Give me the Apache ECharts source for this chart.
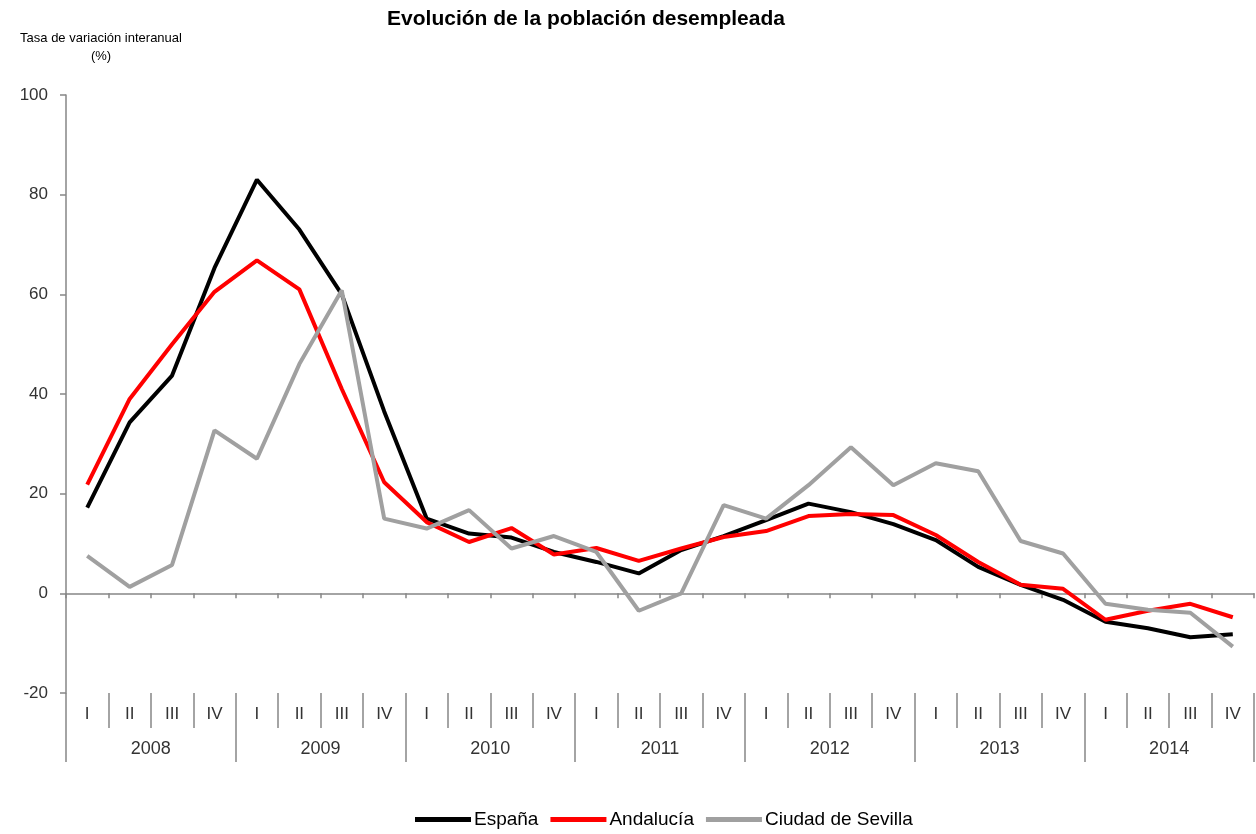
<!DOCTYPE html>
<html>
<head>
<meta charset="utf-8">
<script src="https://cdn.jsdelivr.net/npm/echarts@6/dist/echarts.min.js"></script>
<style>html,body{margin:0;padding:0;background:#fff}#c{width:1256px;height:834px}</style>
</head>
<body>
<div id="c"></div>
<script>
const years = ['2008','2009','2010','2011','2012','2013','2014'];
const quarterNames = ['I','II','III','IV'];
const quarters = [];
years.forEach(() => quarterNames.forEach(q => quarters.push(q)));
const categories = [];
years.forEach(y => quarterNames.forEach(q => categories.push(y + ' ' + q)));

const espana = [17.2, 34.3, 43.7, 65.3, 83.0, 73.0, 60.0, 36.5, 15.0, 12.0, 11.2, 8.3, 6.3, 4.0, 8.7, 11.5, 14.7, 18.0, 16.3, 13.9, 10.7, 5.3, 1.7, -1.3, -5.7, -7.0, -8.8, -8.2];
const andalucia = [21.8, 39.0, 50.0, 60.5, 66.8, 61.0, 41.0, 22.3, 14.3, 10.3, 13.1, 7.8, 9.1, 6.5, 9.0, 11.3, 12.5, 15.5, 15.9, 15.7, 11.7, 6.3, 1.7, 0.9, -5.3, -3.5, -2.1, -4.8];
const sevilla = [7.5, 1.3, 5.7, 32.7, 27.0, 46.0, 60.8, 15.0, 13.0, 16.7, 9.0, 11.5, 8.3, -3.5, 0.0, 17.7, 15.0, 21.7, 29.3, 21.7, 26.1, 24.5, 10.5, 8.0, -2.1, -3.3, -3.9, -10.7];

const FONT = 'Liberation Sans, Arial, sans-serif';
const AX = '#868686';
const LBL = '#333';
const chart = echarts.init(document.getElementById('c'), null, {renderer: 'canvas'});
chart.setOption({
  animation: false,
  backgroundColor: '#fff',
  title: [
    {text: 'Evolución de la población desempleada', left: 581, textAlign: 'center', top: 4,
     textStyle: {fontFamily: FONT, fontSize: 21, fontWeight: 'bold', color: '#000'}},
    {text: 'Tasa de variación interanual\n(%)', left: 96, textAlign: 'center', top: 24,
     textStyle: {fontFamily: FONT, fontSize: 13, fontWeight: 'normal', color: '#000', lineHeight: 18}}
  ],
  legend: {
    bottom: 5, left: 415, padding: 0, itemWidth: 56, itemHeight: 5, itemGap: 12, icon: 'rect',
    textStyle: {fontFamily: FONT, fontSize: 19, color: '#000', padding: [0, 0, 0, -2]},
    data: ['España', 'Andalucía', 'Ciudad de Sevilla']
  },
  grid: {left: 66, right: 2, top: 95, bottom: 141, containLabel: false},
  xAxis: [
    {type: 'category', data: categories, boundaryGap: true,
     axisLine: {onZero: true, lineStyle: {color: AX, width: 1.5}},
     axisTick: {show: true, interval: 0, length: 5, lineStyle: {color: AX, width: 1.5}},
     axisLabel: {show: false}, splitLine: {show: false}},
    {type: 'category', data: quarters, position: 'bottom', offset: 0, boundaryGap: true,
     axisLine: {show: false, onZero: false},
     axisTick: {show: true, interval: 0, length: 35, lineStyle: {color: AX, width: 1.5}},
     axisLabel: {show: true, interval: 0, margin: 13, fontFamily: FONT, fontSize: 17, color: LBL},
     splitLine: {show: false}},
    {type: 'category', data: years, position: 'bottom', offset: 0, boundaryGap: true,
     axisLine: {show: false, onZero: false},
     axisTick: {show: true, interval: 0, length: 69, lineStyle: {color: AX, width: 1.5}},
     axisLabel: {show: true, interval: 0, margin: 47, fontFamily: FONT, fontSize: 18, color: LBL},
     splitLine: {show: false}}
  ],
  yAxis: {
    type: 'value', min: -20, max: 100, interval: 20,
    axisLine: {show: true, lineStyle: {color: AX, width: 1.5}},
    axisTick: {show: true, length: 6, lineStyle: {color: AX, width: 1.5}},
    axisLabel: {fontFamily: FONT, fontSize: 17, color: LBL, margin: 18},
    splitLine: {show: false}
  },
  series: [
    {name: 'España', type: 'line', data: espana, xAxisIndex: 0, showSymbol: false, symbol: 'none',
     lineStyle: {color: '#000', width: 4}, itemStyle: {color: '#000'}},
    {name: 'Andalucía', type: 'line', data: andalucia, xAxisIndex: 0, showSymbol: false, symbol: 'none',
     lineStyle: {color: '#ff0000', width: 4}, itemStyle: {color: '#ff0000'}},
    {name: 'Ciudad de Sevilla', type: 'line', data: sevilla, xAxisIndex: 0, showSymbol: false, symbol: 'none',
     lineStyle: {color: '#a0a0a0', width: 4}, itemStyle: {color: '#a0a0a0'}}
  ]
});
</script>
</body>
</html>
